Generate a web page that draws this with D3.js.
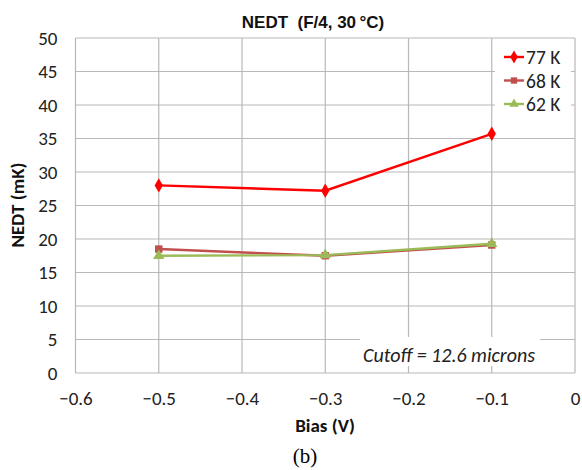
<!DOCTYPE html>
<html><head><meta charset="utf-8">
<script src="https://cdn.jsdelivr.net/npm/d3@7"></script>
<style>body{margin:0;background:#fff}svg{display:block}</style>
</head><body>
<svg id="c" width="582" height="470"></svg>
<script>
const bias = [-0.5, -0.3, -0.1];
const seriesNames = ["77 K", "68 K", "62 K"];
const nedt77 = [28.0, 27.2, 35.7];
const nedt68 = [18.5, 17.5, 19.1];
const nedt62 = [17.5, 17.6, 19.3];
const xTicks = [-0.6, -0.5, -0.4, -0.3, -0.2, -0.1, 0];
const yTicks = [0, 5, 10, 15, 20, 25, 30, 35, 40, 45, 50];
const colors = ["#ff0000", "#c0504d", "#9bbb59"];
const symbols = [d3.symbolDiamond, d3.symbolSquare, d3.symbolTriangle];

const svg = d3.select("#c");
const L = 75.5, R = 575, T = 38, B = 373;
const x = d3.scaleLinear().domain([-0.6, 0]).range([L, R]);
const y = d3.scaleLinear().domain([0, 50]).range([B, T]);
const grid = "#b8b8b8";
const font = "Calibri, Carlito, Lato, 'Liberation Sans', Arial, sans-serif";
const arial = "Arial, 'Liberation Sans', sans-serif";

// grid
svg.append("g").selectAll("line").data(yTicks).join("line")
  .attr("x1", L).attr("x2", R).attr("y1", d => y(d)).attr("y2", d => y(d))
  .attr("stroke", grid).attr("stroke-width", 1.2);
svg.append("g").selectAll("line").data(xTicks).join("line")
  .attr("y1", T).attr("y2", B).attr("x1", d => x(d)).attr("x2", d => x(d))
  .attr("stroke", grid).attr("stroke-width", 1.2);

// axes labels
const xa = svg.append("g").attr("transform", `translate(0,${B})`)
  .call(d3.axisBottom(x).tickValues(xTicks).tickSize(0).tickPadding(19)
    .tickFormat(d => d === 0 ? "0" : "\u2212" + d3.format(".1f")(Math.abs(d))));
xa.select(".domain").remove();
xa.selectAll("text").attr("font-family", font).attr("font-size", 19).attr("fill", "#222");
const ya = svg.append("g").attr("transform", `translate(${L},0)`)
  .call(d3.axisLeft(y).tickValues(yTicks).tickSize(0).tickPadding(18));
ya.select(".domain").remove();
ya.selectAll("text").attr("font-family", font).attr("font-size", 19).attr("fill", "#222");

// series
const data = [nedt77, nedt68, nedt62];
const line = d3.line().x((d, i) => x(bias[i])).y(d => y(d));
const order = [1, 2, 0];
order.forEach(k => {
  svg.append("path").datum(data[k]).attr("d", line)
    .attr("fill", "none").attr("stroke", colors[k]).attr("stroke-width", 2.4);
  svg.append("g").selectAll("path").data(data[k]).join("path")
    .attr("transform", (d, i) => `translate(${x(bias[i])},${y(d)})`)
    .attr("d", d3.symbol().type(symbols[k]).size(k === 0 ? 60 : 55))
    .attr("fill", colors[k]);
});

// legend
svg.append("rect").attr("x", 495).attr("y", 42).attr("width", 76).attr("height", 76).attr("fill", "#fff");
seriesNames.forEach((n, k) => {
  const ly = 57 + k * 23.5;
  svg.append("line").attr("x1", 504).attr("x2", 524).attr("y1", ly).attr("y2", ly)
    .attr("stroke", colors[k]).attr("stroke-width", 2.4);
  svg.append("path").attr("transform", `translate(514,${ly})`)
    .attr("d", d3.symbol().type(symbols[k]).size(k === 0 ? 50 : 40)).attr("fill", colors[k]);
  svg.append("text").attr("x", 526).attr("y", ly + 7).text(n)
    .attr("font-family", font).attr("font-size", 19.5).attr("fill", "#222");
});

// annotation
svg.append("rect").attr("x", 360).attr("y", 337).attr("width", 180).attr("height", 29).attr("fill", "#fff");
svg.append("text").attr("x", 449).attr("y", 362).attr("text-anchor", "middle")
  .attr("font-family", font).attr("font-style", "italic").attr("font-size", 20).attr("fill", "#222")
  .text("Cutoff = 12.6 microns");

// title and axis titles
svg.append("text").attr("x", 313).attr("y", 28).attr("text-anchor", "middle")
  .attr("font-family", arial).attr("font-weight", "bold").attr("font-size", 17).attr("fill", "#111")
  .text("NEDT\u00a0 (F/4, 30\u2009\u00b0C)");
svg.append("text").attr("x", 325).attr("y", 432).attr("text-anchor", "middle")
  .attr("font-family", font).attr("font-weight", "bold").attr("font-size", 19).attr("fill", "#111")
  .text("Bias (V)");
svg.append("text").attr("transform", "translate(24,205) rotate(-90)").attr("text-anchor", "middle")
  .attr("font-family", font).attr("font-weight", "bold").attr("font-size", 19).attr("fill", "#111")
  .text("NEDT (mK)");
svg.append("text").attr("x", 305).attr("y", 463).attr("text-anchor", "middle")
  .attr("font-family", "'Liberation Serif', 'Times New Roman', serif").attr("font-size", 21).attr("fill", "#000")
  .text("(b)");
</script>
</body></html>
